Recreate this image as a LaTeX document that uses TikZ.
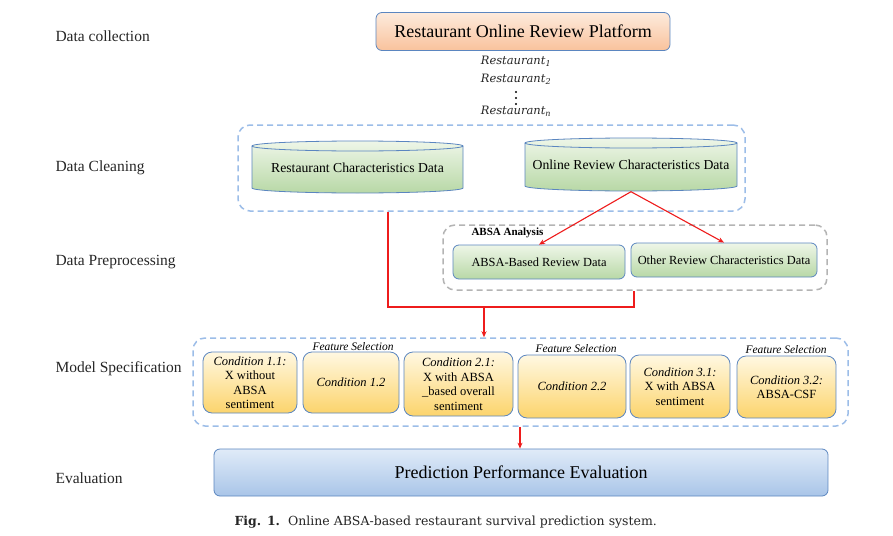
\documentclass[tikz,border=0pt]{standalone}
\usepackage{fontspec}
\setmainfont{Liberation Serif}
\newfontfamily\capfont{DejaVu Serif}
\newfontfamily\mathitfont{DejaVu Serif}
\usetikzlibrary{arrows.meta}
\definecolor{bordblue}{HTML}{5B86C0}
\definecolor{dashblue}{HTML}{9CBDE8}
\definecolor{dashgray}{HTML}{B4B4B4}
\definecolor{redline}{HTML}{EE1C1C}
\definecolor{orgtop}{HTML}{FDEBDD}
\definecolor{orgbot}{HTML}{F9C29C}
\definecolor{grntop}{HTML}{EEF6E8}
\definecolor{grnbot}{HTML}{B8D8A6}
\definecolor{yeltop}{HTML}{FFF8E2}
\definecolor{yelbot}{HTML}{FCD46C}
\definecolor{blutop}{HTML}{E0EBF8}
\definecolor{blubot}{HTML}{A9C5E8}
\tikzset{
  fs/.style={font=\fontsize{#1}{#1}\selectfont},
  stagelbl/.style={anchor=west, fs=15.5, text=black!85},
  rbox/.style={draw=bordblue, line width=0.8pt, rounded corners=6pt, align=center, inner sep=1pt},
  orgbox/.style={rbox, top color=orgtop, bottom color=orgbot},
  grnbox/.style={rbox, top color=grntop, bottom color=grnbot, fs=12.4},
  yelbox/.style={rbox, top color=yeltop, bottom color=yelbot, font=\fontsize{12.5}{14.5}\selectfont, rounded corners=9pt},
  blubox/.style={rbox, top color=blutop, bottom color=blubot},
  dashbox/.style={draw=dashblue, line width=1.5pt, dash pattern=on 6pt off 4pt, rounded corners=12pt},
  graybox/.style={draw=dashgray, line width=1.5pt, dash pattern=on 6pt off 4pt, rounded corners=12pt},
  cylstyle/.style={draw=bordblue, line width=0.8pt, top color=grntop, bottom color=grnbot},
  redarrow/.style={draw=redline, line width=1.1pt, -{Stealth[length=6pt,width=5pt]}},
  redln/.style={draw=redline, line width=1.1pt},
  featlbl/.style={font=\itshape\fontsize{11.5}{13}\selectfont},
  reslbl/.style={font=\mathitfont\itshape\fontsize{11.5}{13}\selectfont, text=black!85},
}
\begin{document}
\begin{tikzpicture}[x=1pt,y=-1pt]
\useasboundingbox[fill=white] (0,0) rectangle (893,535);

% stage labels
\node[stagelbl] (l1) at (52,36) {Data collection};
\node[stagelbl] (l2) at (52,168) {Data Cleaning};
\node[stagelbl] (l3) at (52,262) {Data Preprocessing};
\node[stagelbl] (l4) at (52,369) {Model Specification};
\node[stagelbl] (l5) at (52,478) {Evaluation};

% top box
\node[orgbox, minimum width=294, minimum height=38, fs=18] (plat) at (523,31.5) {Restaurant Online Review Platform};

% restaurant list
\node[reslbl] (r1) at (516,61) {Restaurant\textsubscript{1}};
\node[reslbl] (r2) at (516,79) {Restaurant\textsubscript{2}};
\node[reslbl] (rn) at (516,111) {Restaurant\textsubscript{n}};
\fill (516,92) circle (1.2);
\fill (516,98) circle (1.2);
\fill (516,104) circle (1.2);

% data cleaning dashed box
\node[dashbox, minimum width=507, minimum height=86] (clean) at (491.5,168) {};

% cylinders
\path[cylstyle] (252,146) -- (252,188) arc[start angle=180,end angle=360,x radius=105.5pt,y radius=5pt]
  -- (463,146) arc[start angle=0,end angle=180,x radius=105.5pt,y radius=5pt] -- cycle;
\draw[draw=bordblue, line width=0.8pt] (252,146) arc[start angle=180,end angle=360,x radius=105.5pt,y radius=5pt];
\node[fs=13.7, minimum width=211, minimum height=52] (cyl1) at (357.5,168) {Restaurant Characteristics Data};

\path[cylstyle] (525,143) -- (525,186) arc[start angle=180,end angle=360,x radius=106pt,y radius=5pt]
  -- (737,143) arc[start angle=0,end angle=180,x radius=106pt,y radius=5pt] -- cycle;
\draw[draw=bordblue, line width=0.8pt] (525,143) arc[start angle=180,end angle=360,x radius=106pt,y radius=5pt];
\node[fs=13.7, minimum width=212, minimum height=53] (cyl2) at (631,165) {Online Review Characteristics Data};

% preprocessing
\node[graybox, minimum width=384, minimum height=65] (prep) at (635,257.5) {};
\node[anchor=west, font=\bfseries\fontsize{11}{13}\selectfont] (absalbl) at (468,233) {ABSA Analysis};
\node[grnbox, minimum width=172, minimum height=34] (absa) at (539,262) {ABSA-Based Review Data};
\node[grnbox, minimum width=186, minimum height=34] (other) at (724,260) {Other Review Characteristics Data};

\draw[redarrow] (cyl2.south) -- (absa.north);
\draw[redarrow] (cyl2.south) -- (other.north);

% model specification
\node[dashbox, minimum width=655, minimum height=88] (model) at (520.5,382) {};
\node[yelbox, minimum width=94, minimum height=61] (c11) at (250,382.5) {\textit{Condition 1.1:}\\X without\\ABSA\\sentiment};
\node[yelbox, minimum width=96, minimum height=61] (c12) at (351,382.5) {\textit{Condition 1.2}};
\node[yelbox, minimum width=109, minimum height=64] (c21) at (458.5,384) {\textit{Condition 2.1:}\\X with ABSA\\\_based overall\\sentiment};
\node[yelbox, minimum width=108, minimum height=63] (c22) at (572,386.5) {\textit{Condition 2.2}};
\node[yelbox, minimum width=100, minimum height=63] (c31) at (680,386.5) {\textit{Condition 3.1:}\\X with ABSA\\sentiment};
\node[yelbox, minimum width=99, minimum height=62] (c32) at (786.5,387) {\textit{Condition 3.2:}\\ABSA-CSF};
\node[featlbl] (f1) at (353,347) {Feature Selection};
\node[featlbl] (f2) at (576,348.5) {Feature Selection};
\node[featlbl] (f3) at (786,349.5) {Feature Selection};

% connectors
\coordinate (ja) at (388,307);
\coordinate (jb) at (634,307);
\coordinate (jm) at (484,307);
\coordinate (je) at (520,0);
\draw[redln] (clean.south -| ja) -- (ja) -- (jb) -- (prep.south -| jb);
\draw[redarrow] (jm) -- (model.north -| jm);

% evaluation
\node[blubox, minimum width=614, minimum height=47, fs=18] (eval) at (521,472.5) {Prediction Performance Evaluation};
\draw[redarrow] (model.south -| je) -- (eval.north -| je);

% caption
\node[anchor=west, font=\capfont\fontsize{12.5}{14}\selectfont, text=black!85] (cap) at (231,522) {\textbf{Fig. 1.}\ \ Online ABSA-based restaurant survival prediction system.};
\end{tikzpicture}
\end{document}
